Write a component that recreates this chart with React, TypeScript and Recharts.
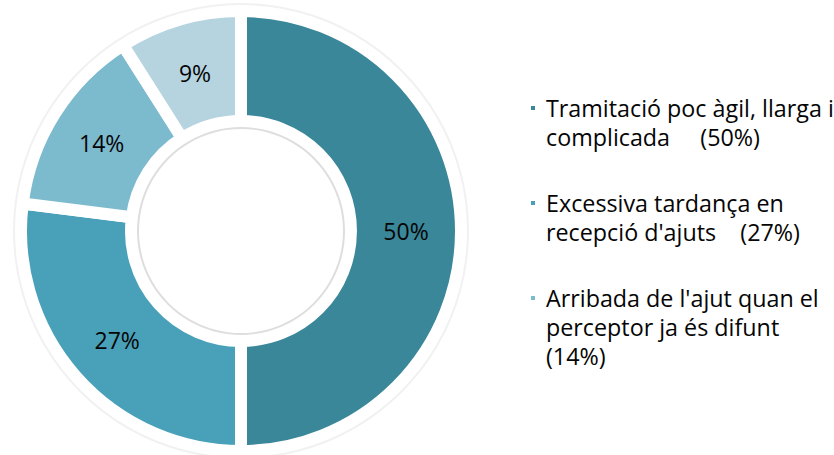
import React from 'react';
import { PieChart, Pie, Cell, Legend } from 'recharts';

const categories = [
  "Tramitació poc àgil, llarga i complicada",
  "Excessiva tardança en recepció d'ajuts",
  "Arribada de l'ajut quan el perceptor ja és difunt",
  "Altres",
];
const values = [50, 27, 14, 9];
const colors = ["#3A8799", "#48A1B9", "#7CBACE", "#B5D4DF"];
const legendLabels = [
  "Tramitació poc àgil, llarga i\ncomplicada     (50%)",
  "Excessiva tardança en\nrecepció d'ajuts    (27%)",
  "Arribada de l'ajut quan el\nperceptor ja és difunt\n(14%)",
];

const data = categories.map((name, i) => ({ name, value: values[i] }));
const ring = [{ name: 'ring', value: 1 }];

const FONT = '"Open Sans", sans-serif';
const RAD = Math.PI / 180;

const renderLabel = (props: any) => {
  const { cx, cy, midAngle, innerRadius, outerRadius, value } = props;
  const r = (innerRadius + outerRadius) / 2;
  const x = cx + r * Math.cos(-midAngle * RAD);
  const y = cy + r * Math.sin(-midAngle * RAD);
  return (
    <text x={x} y={y} textAnchor="middle" dominantBaseline="central" fill="#050505"
      style={{ fontFamily: FONT, fontSize: 23 }}>
      {`${value}%`}
    </text>
  );
};

const renderLegend = (props: any) => {
  const payload = props.payload || [];
  return (
    <div style={{ fontFamily: FONT, fontSize: 23.3, color: '#050505', lineHeight: '29px' }}>
      {payload.map((entry: any, i: number) => {
        const label = legendLabels[i];
        if (!label) return null;
        return (
          <div key={i} style={{ display: 'flex', marginBottom: 37 }}>
            <div style={{ width: 20, flex: 'none', position: 'relative' }}>
              <div style={{ position: 'absolute', left: 5, top: 12, width: 4, height: 4, background: colors[i] }} />
            </div>
            <div style={{ whiteSpace: 'pre' }}>{label}</div>
          </div>
        );
      })}
    </div>
  );
};

export default function App() {
  return (
    <div style={{ position: 'absolute', left: 0, top: 0, width: 834, height: 455, overflow: 'hidden', background: '#fff' }}>
      <PieChart width={834} height={455} margin={{ top: 0, right: 0, bottom: 0, left: 0 }}>
        <Pie data={data} dataKey="value" nameKey="name" cx={241} cy={231}
          innerRadius={110} outerRadius={220} startAngle={90} endAngle={-270}
          stroke="#ffffff" strokeWidth={12} label={renderLabel} labelLine={false}
          isAnimationActive={false}>
          {data.map((d, i) => <Cell key={i} fill={colors[i]} />)}
        </Pie>
        <Pie data={ring} dataKey="value" cx={241} cy={231} innerRadius={226} outerRadius={228}
          fill="#f1f1f1" stroke="none" legendType="none" isAnimationActive={false} />
        <Pie data={ring} dataKey="value" cx={241} cy={231} innerRadius={102} outerRadius={104}
          fill="#dedede" stroke="none" legendType="none" isAnimationActive={false} />
        <Legend content={renderLegend} wrapperStyle={{ position: 'absolute', left: 526, top: 94, width: 320 }} />
      </PieChart>
    </div>
  );
}
